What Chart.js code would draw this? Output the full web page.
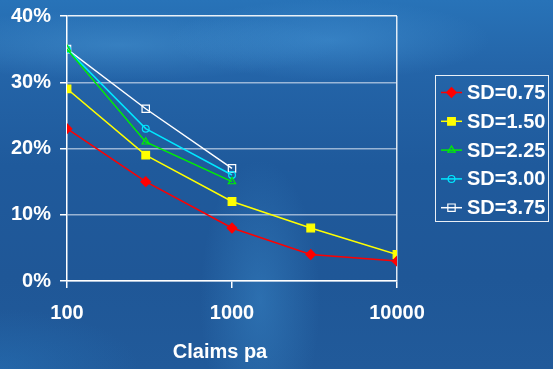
<!DOCTYPE html>
<html>
<head>
<meta charset="utf-8">
<script src="https://cdn.jsdelivr.net/npm/chart.js@4/dist/chart.umd.min.js"></script>
<style>
  html, body { margin: 0; padding: 0; }
  body {
    width: 553px; height: 369px; overflow: hidden;
    background:
      radial-gradient(ellipse 160px 40px at 330px 40px, rgba(70,150,215,0.5), rgba(70,150,215,0) 100%),
      radial-gradient(ellipse 220px 35px at 120px 45px, rgba(80,160,220,0.4), rgba(80,160,220,0) 100%),
      radial-gradient(ellipse 60px 140px at 260px 300px, rgba(60,140,205,0.45), rgba(60,140,205,0) 100%),
      radial-gradient(ellipse 140px 60px at 0px 369px, rgba(40,120,190,0.4), rgba(40,120,190,0) 100%),
      linear-gradient(180deg, #2873b8 0%, #2465a9 18%, #1f5a9c 45%, #1f5797 75%, #215a9a 100%);
  }
  #wrap { position: absolute; left: 0; top: 0; width: 553px; height: 369px; }
</style>
</head>
<body>
<div id="wrap"><canvas id="chart" width="553" height="369"></canvas></div>
<script>
// Claims per annum on the x axis (log scale)
const claims = [100, 300, 1000, 3000, 10000];
const xTickValues = [100, 1000, 10000];
const yTickValues = [0, 0.1, 0.2, 0.3, 0.4];

// Series values (fraction) by standard deviation
const sd075 = [0.23, 0.15, 0.08, 0.04, 0.03];
const sd150 = [0.29, 0.19, 0.12, 0.08, 0.04];
const sd225 = [0.35, 0.21, 0.15];
const sd300 = [0.35, 0.23, 0.16];
const sd375 = [0.35, 0.26, 0.17];

const seriesLabels = ['SD=0.75', 'SD=1.50', 'SD=2.25', 'SD=3.00', 'SD=3.75'];
const axisTitle = 'Claims pa';

const FONT = '"Liberation Sans", Arial, sans-serif';

function pts(vals) { return vals.map((v, i) => ({ x: claims[i], y: v })); }

const styles = [
  { color: '#ff0000', pointStyle: 'rectRot', radius: 4.8, fill: '#ff0000' },
  { color: '#ffff00', pointStyle: 'rect', radius: 5.4, fill: '#ffff00' },
  { color: '#00f000', pointStyle: 'triangle', radius: 4.2, fill: 'rgba(0,0,0,0)' },
  { color: '#00e8ff', pointStyle: 'circle', radius: 3.4, fill: 'rgba(0,0,0,0)' },
  { color: '#ffffff', pointStyle: 'rect', radius: 5.2, fill: 'rgba(0,0,0,0)' }
];
const seriesValues = [sd075, sd150, sd225, sd300, sd375];

const datasets = seriesValues.map((vals, i) => ({
  label: seriesLabels[i],
  data: pts(vals),
  borderColor: styles[i].color,
  backgroundColor: styles[i].fill,
  borderWidth: 1.5,
  pointStyle: styles[i].pointStyle,
  pointRadius: styles[i].radius,
  pointBorderColor: styles[i].color,
  pointBackgroundColor: styles[i].fill,
  pointBorderWidth: 1.2,
  tension: 0,
  fill: false
}));

// Legend box: line sample with marker, then label
const legendPlugin = {
  id: 'lineLegend',
  afterDraw(chart) {
    const ctx = chart.ctx;
    const box = { x: 435.5, y: 75.5, w: 113, h: 146 };
    ctx.save();
    ctx.strokeStyle = 'rgba(255,255,255,0.9)';
    ctx.lineWidth = 1;
    ctx.strokeRect(box.x, box.y, box.w, box.h);
    ctx.font = 'bold 20px ' + FONT;
    ctx.textBaseline = 'middle';
    ctx.textAlign = 'left';
    chart.data.datasets.forEach((ds, i) => {
      const cy = 92.5 + i * 28.8;
      ctx.strokeStyle = ds.borderColor;
      ctx.lineWidth = 1.5;
      ctx.beginPath();
      ctx.moveTo(441, cy);
      ctx.lineTo(462, cy);
      ctx.stroke();
      ctx.fillStyle = ds.pointBackgroundColor;
      ctx.strokeStyle = ds.pointBorderColor;
      ctx.lineWidth = ds.pointBorderWidth;
      Chart.helpers.drawPoint(ctx, {
        pointStyle: ds.pointStyle,
        radius: ds.pointRadius,
        rotation: 0,
        borderWidth: ds.pointBorderWidth
      }, 451.5, cy);
      ctx.fillStyle = '#ffffff';
      ctx.fillText(ds.label, 467, cy + 1);
    });
    ctx.restore();
  }
};

// Axis title placed under the x axis
const axisTitlePlugin = {
  id: 'axisTitle',
  afterDraw(chart) {
    const ctx = chart.ctx;
    ctx.save();
    ctx.font = 'bold 20px ' + FONT;
    ctx.fillStyle = '#ffffff';
    ctx.textAlign = 'center';
    ctx.textBaseline = 'middle';
    ctx.fillText(axisTitle, 220, 352);
    ctx.restore();
  }
};

new Chart(document.getElementById('chart'), {
  type: 'line',
  data: { datasets },
  options: {
    responsive: false,
    animation: false,
    layout: { padding: { top: 16, right: 156, left: 0, bottom: 0 } },
    plugins: { legend: { display: false }, tooltip: { enabled: false } },
    scales: {
      x: {
        type: 'logarithmic',
        min: 100,
        max: 10000,
        afterBuildTicks(scale) { scale.ticks = xTickValues.map(v => ({ value: v })); },
        afterFit(scale) {
          scale.height = 88;
          scale.paddingLeft = 0; scale.paddingRight = 0;
        },
        ticks: {
          color: '#ffffff',
          font: { family: FONT, size: 20, weight: 'bold' },
          padding: 13,
          maxRotation: 0,
          autoSkip: false,
          callback: (v) => String(v)
        },
        grid: {
          color: (c) => (c.tick && c.tick.value === 10000) ? 'rgba(255,255,255,0.85)' : 'rgba(0,0,0,0)',
          tickColor: '#ffffff',
          tickLength: 7,
          lineWidth: 1.5
        },
        border: { color: '#ffffff', width: 1.5 }
      },
      y: {
        min: 0,
        max: 0.4,
        afterBuildTicks(scale) { scale.ticks = yTickValues.map(v => ({ value: v })); },
        afterFit(scale) {
          scale.width = 67;
          scale.paddingTop = 0; scale.paddingBottom = 0;
        },
        ticks: {
          color: '#ffffff',
          font: { family: FONT, size: 20, weight: 'bold' },
          padding: 9,
          callback: (v) => Math.round(v * 100) + '%'
        },
        grid: {
          color: (c) => {
            const v = c.tick ? c.tick.value : 0;
            if (v >= 0.399) return 'rgba(255,255,255,0.9)';
            return 'rgba(235,240,250,0.6)';
          },
          tickColor: '#ffffff',
          tickLength: 7,
          lineWidth: 1.5
        },
        border: { color: '#ffffff', width: 1.5 }
      }
    }
  },
  plugins: [legendPlugin, axisTitlePlugin]
});
</script>
</body>
</html>
